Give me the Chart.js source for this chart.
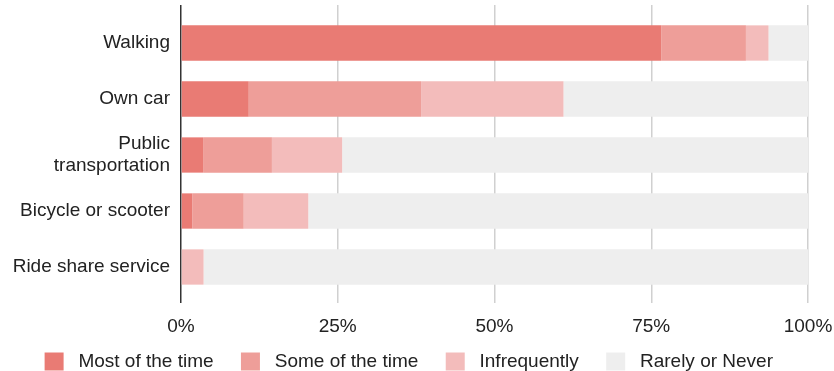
<!DOCTYPE html>
<html>
<head>
<meta charset="utf-8">
<script src="https://cdn.jsdelivr.net/npm/chart.js@4/dist/chart.umd.min.js"></script>
<style>
  html, body { margin: 0; padding: 0; background: #fff; }
  #wrap { width: 834px; height: 371px; }
</style>
</head>
<body>
<div id="wrap"><canvas id="chartCanvas"></canvas></div>
<script>
// categories (y axis) and the four answer groups, values in percent
var categories = ['Walking', 'Own car', ['Public', 'transportation'], 'Bicycle or scooter', 'Ride share service']
var mostOfTheTime = [76.6, 10.8, 3.6, 1.8, 0]
var someOfTheTime = [13.5, 27.5, 10.9, 8.2, 0]
var infrequently  = [3.6, 22.7, 11.2, 10.3, 3.6]
var rarelyOrNever = [6.3, 39.0, 74.3, 79.7, 96.4]

var seriesNames = ['Most of the time', 'Some of the time', 'Infrequently', 'Rarely or Never']
var colorList = ['#e97b74', '#ee9e99', '#f3bcbb', '#eeeeee']
var xTicks = [0, 25, 50, 75, 100]

var textColor = '#222'
var fontFamily = "'Liberation Sans', Arial, sans-serif"
var fontSize = 19

var seriesValues = [mostOfTheTime, someOfTheTime, infrequently, rarelyOrNever]
var datasets = seriesValues.map((vals, i) => {
    return {
        label: seriesNames[i],
        data: vals,
        backgroundColor: colorList[i],
        borderWidth: 0,
        categoryPercentage: 0.63,
        barPercentage: 1
    }
})

// zero line is dark, the rest light gray
var gridColor = ctx => ctx.tick && ctx.tick.value === 0 ? '#333' : '#d0d0d0'
var fixedTicks = axis => { axis.ticks = xTicks.map(v => ({ value: v })) }

// nudge the legend row a bit to the right after layout
var legendShift = {
    id: 'legendShift',
    afterLayout(chart) {
        chart.legend.left += 18
        chart.legend.right += 18
    }
}

const ctx = document.getElementById('chartCanvas')
var myChart = new Chart(ctx, {
    type: 'bar',
    data: { labels: categories, datasets: datasets },
    plugins: [legendShift],
    options: {
        indexAxis: 'y',
        responsive: true,
        maintainAspectRatio: false,
        animation: false,
        layout: { padding: { top: 5, right: 26, left: 0, bottom: -10 } },
        scales: {
            x: {
                stacked: true,
                min: 0,
                max: 100,
                afterBuildTicks: fixedTicks,
                afterFit: axis => {
                    axis.height = 56
                    axis.paddingLeft = 0
                    axis.paddingRight = 0
                },
                border: { display: false },
                grid: { color: gridColor, lineWidth: 1.5, tickLength: 8 },
                ticks: {
                    padding: 12,
                    color: textColor,
                    font: { size: fontSize, family: fontFamily },
                    callback: v => v + '%'
                }
            },
            x2: {
                position: 'top',
                min: 0,
                max: 100,
                afterBuildTicks: fixedTicks,
                afterFit: axis => {
                    axis.paddingLeft = 0
                    axis.paddingRight = 0
                },
                border: { display: false },
                grid: { color: gridColor, lineWidth: 1.5, tickLength: 10, drawOnChartArea: false },
                ticks: { display: false }
            },
            y: {
                stacked: true,
                afterFit: axis => {
                    axis.width = 181
                    axis.paddingTop = 0
                    axis.paddingBottom = 0
                },
                border: { display: false },
                grid: { display: false, drawTicks: false },
                ticks: {
                    padding: 11,
                    color: textColor,
                    font: { size: fontSize, family: fontFamily, lineHeight: 1.16 }
                }
            }
        },
        plugins: {
            tooltip: { enabled: false },
            legend: {
                position: 'bottom',
                labels: {
                    boxWidth: 19,
                    boxHeight: 18,
                    padding: 1,
                    color: textColor,
                    font: { size: fontSize, family: fontFamily },
                    generateLabels: chart => {
                        var items = Chart.defaults.plugins.legend.labels.generateLabels(chart)
                        items.forEach(it => {
                            it.text = ' ' + it.text + '     '
                            it.lineWidth = 0
                        })
                        return items
                    }
                }
            }
        }
    }
})
</script>
</body>
</html>
